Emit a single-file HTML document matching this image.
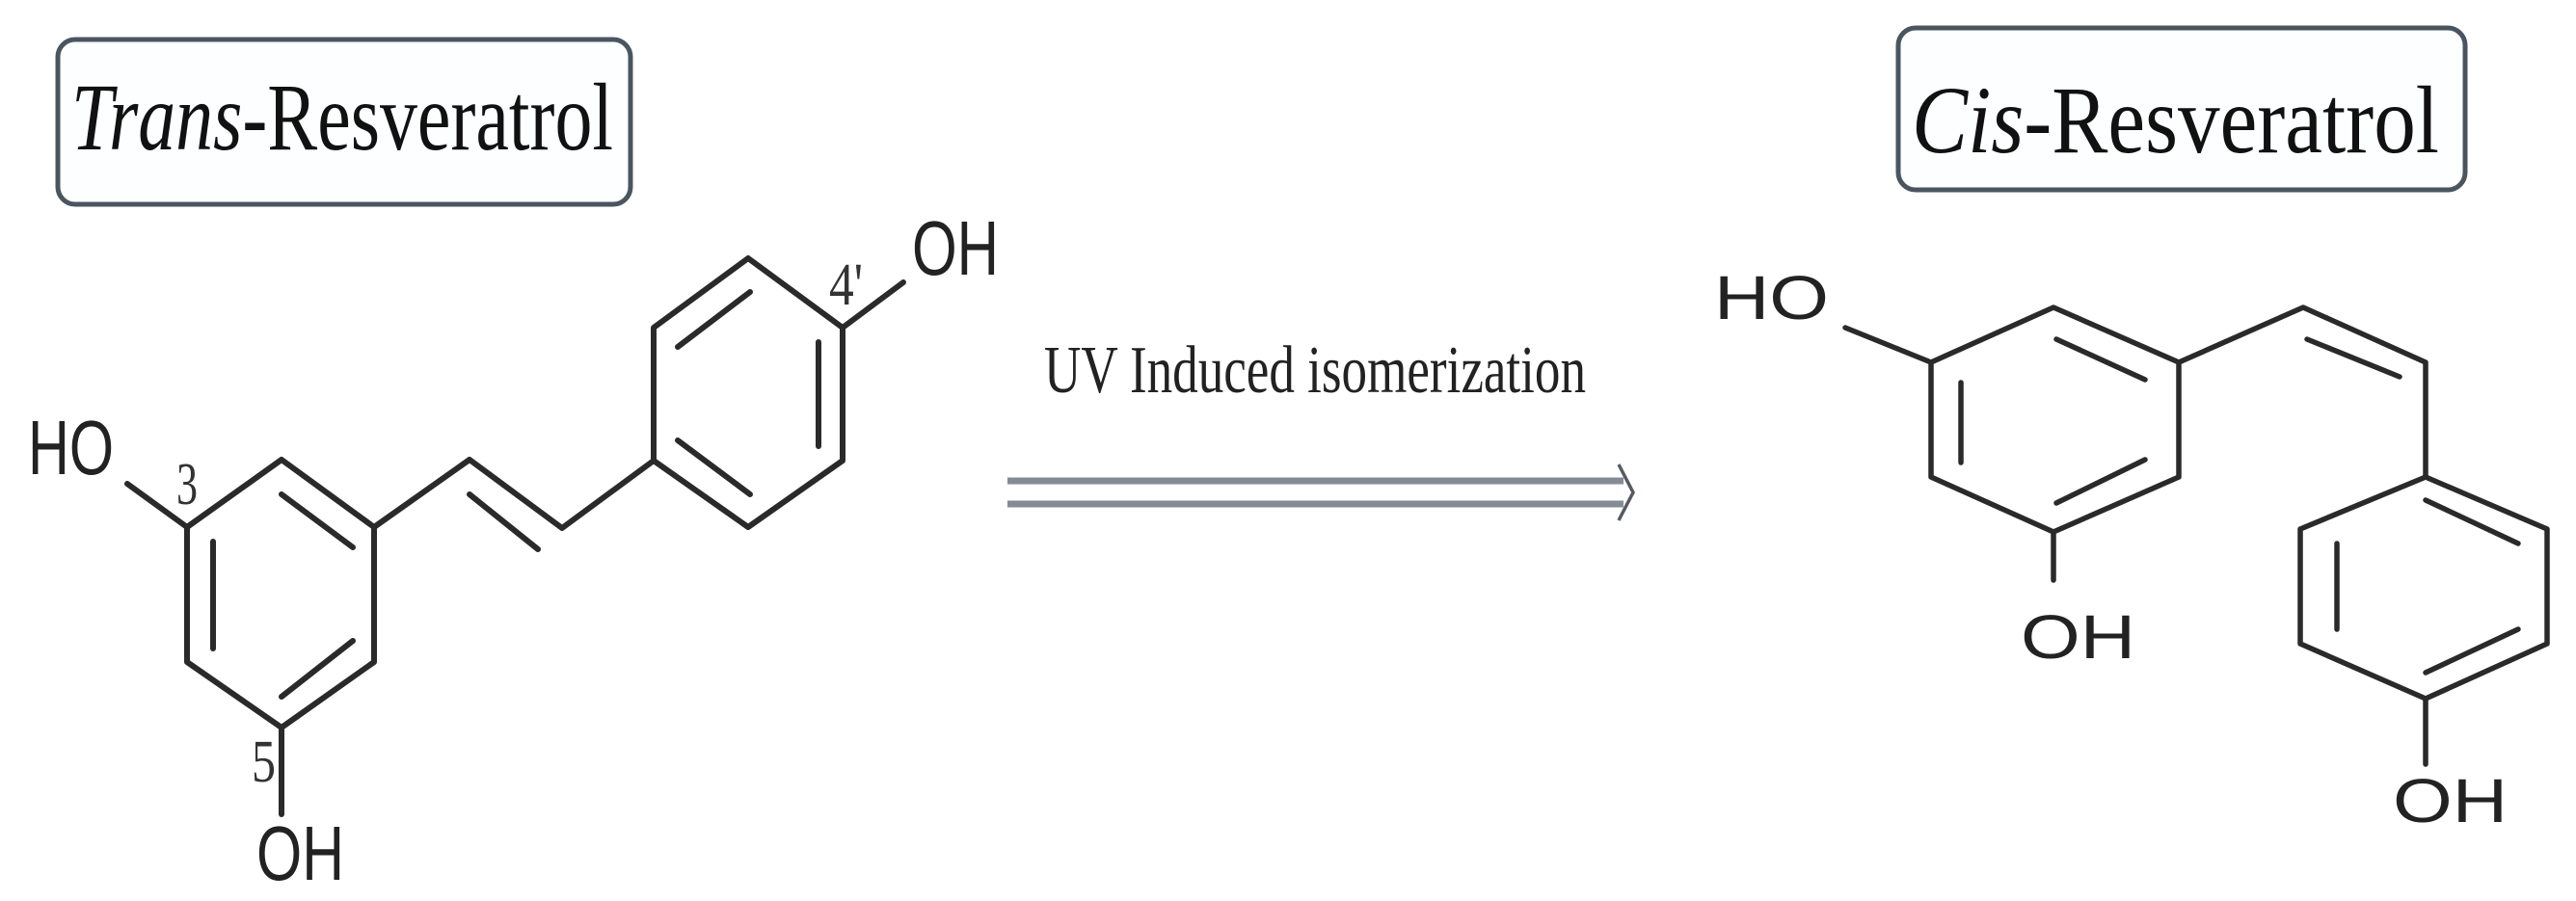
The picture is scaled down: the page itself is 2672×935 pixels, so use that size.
<!DOCTYPE html>
<html><head><meta charset="utf-8"><style>
html,body{margin:0;padding:0;background:#fff;}
svg{display:block;}
</style></head><body>
<svg width="2672" height="935" viewBox="0 0 2672 935" xmlns="http://www.w3.org/2000/svg">
<rect width="2672" height="935" fill="#fff"/>
<!-- Title boxes -->
<rect x="60" y="41" width="594" height="171" rx="18" fill="#fdfeff" stroke="#4a5560" stroke-width="5"/>
<text x="74" y="155" font-family="Liberation Serif, serif" font-size="100" fill="#111" textLength="562" lengthAdjust="spacingAndGlyphs"><tspan font-style="italic">Trans</tspan>-Resveratrol</text>
<rect x="1969" y="29" width="588" height="168" rx="18" fill="#fdfeff" stroke="#4a5560" stroke-width="5"/>
<text x="1983" y="158" font-family="Liberation Serif, serif" font-size="100" fill="#111" textLength="547" lengthAdjust="spacingAndGlyphs"><tspan font-style="italic">Cis</tspan>-Resveratrol</text>

<!-- Arrow -->
<text x="1083" y="407" font-family="Liberation Serif, serif" font-size="70" fill="#222" textLength="562" lengthAdjust="spacingAndGlyphs">UV Induced isomerization</text>
<line x1="1045" y1="499" x2="1684" y2="499" stroke="#858b95" stroke-width="7"/>
<line x1="1045" y1="523" x2="1684" y2="523" stroke="#858b95" stroke-width="7"/>
<polyline points="1679,482 1694,511 1679,540" fill="none" stroke="#555a63" stroke-width="3.5"/>

<g stroke="#2a2a2a" stroke-width="6" fill="none" stroke-linecap="round" stroke-linejoin="round">
<!-- Trans ring A -->
<polygon points="292,477 388,547 388,687 292,755 194,687 194,547"/>
<line x1="221" y1="562" x2="221" y2="673"/>
<line x1="292" y1="513" x2="366" y2="568"/>
<line x1="366" y1="665" x2="292" y2="723"/>
<line x1="194" y1="547" x2="132" y2="502"/>
<line x1="292" y1="755" x2="292" y2="845"/>
<!-- vinyl -->
<polyline points="388,547 487,477 583,548 678,478"/>
<line x1="487" y1="513" x2="558" y2="570"/>
<!-- ring B -->
<polygon points="678,478 678,340 776,268 874,340 874,478 776,547"/>
<line x1="703" y1="360" x2="778" y2="303"/>
<line x1="849" y1="355" x2="849" y2="463"/>
<line x1="703" y1="457" x2="778" y2="513"/>
<line x1="874" y1="340" x2="937" y2="293"/>
</g>
<g font-family="Liberation Sans, sans-serif" fill="#222" font-size="80">
<text x="29" y="492" textLength="89" lengthAdjust="spacingAndGlyphs">HO</text>
<text x="266" y="913" textLength="91" lengthAdjust="spacingAndGlyphs">OH</text>
<text x="946" y="285" textLength="90" lengthAdjust="spacingAndGlyphs">OH</text>
</g>
<g font-family="Liberation Serif, serif" fill="#333" font-size="62">
<text x="183" y="523" textLength="22" lengthAdjust="spacingAndGlyphs">3</text>
<text x="261" y="811" textLength="25" lengthAdjust="spacingAndGlyphs">5</text>
<text x="860" y="316" textLength="35" lengthAdjust="spacingAndGlyphs">4'</text>
</g>

<g stroke="#2a2a2a" stroke-width="5.5" fill="none" stroke-linecap="round" stroke-linejoin="round">
<!-- Cis ring C -->
<polygon points="2003,376 2130,319 2260,376 2260,495 2130,552 2003,495"/>
<line x1="2034" y1="397" x2="2034" y2="480"/>
<line x1="2133" y1="352" x2="2225" y2="394"/>
<line x1="2225" y1="477" x2="2133" y2="522"/>
<line x1="2003" y1="376" x2="1914" y2="340"/>
<line x1="2130" y1="552" x2="2130" y2="602"/>
<!-- vinyl -->
<polyline points="2260,376 2389,319 2516,376 2516,495"/>
<line x1="2393" y1="352" x2="2489" y2="391"/>
<!-- ring D -->
<polygon points="2516,495 2642,549 2642,668 2516,725 2386,668 2386,549"/>
<line x1="2516" y1="519" x2="2612" y2="564"/>
<line x1="2424" y1="564" x2="2424" y2="653"/>
<line x1="2612" y1="653" x2="2516" y2="698"/>
<line x1="2516" y1="725" x2="2516" y2="793"/>
</g>
<g font-family="Liberation Sans, sans-serif" fill="#222" font-size="64">
<text x="1778" y="331" textLength="119" lengthAdjust="spacingAndGlyphs">HO</text>
<text x="2096" y="683" textLength="119" lengthAdjust="spacingAndGlyphs">OH</text>
<text x="2482" y="853" textLength="119" lengthAdjust="spacingAndGlyphs">OH</text>
</g>
</svg>
</body></html>
